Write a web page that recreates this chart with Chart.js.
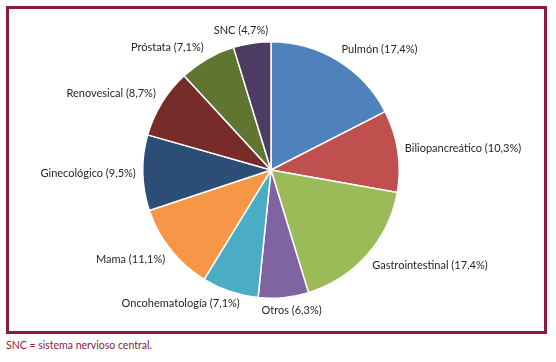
<!DOCTYPE html>
<html>
<head>
<meta charset="utf-8">
<script src="https://cdn.jsdelivr.net/npm/chart.js@4.4.0/dist/chart.umd.min.js"></script>
<style>
body { margin: 0; background: #fff; }
#wrap { position: relative; width: 556px; height: 362px; }
#frame { position: absolute; left: 6px; top: 6px; width: 541px; height: 328px; box-sizing: border-box; border: 3px solid #8b1a40; }
#chart { position: absolute; left: 0; top: 0; }
#nota { position: absolute; left: 6px; top: 339px; font: 10.5px Lato, sans-serif; color: #8b1a40; }
</style>
</head>
<body>
<div id="wrap">
  <div id="frame"></div>
  <canvas id="chart" width="556" height="336"></canvas>
  <div id="nota">SNC = sistema nervioso central.</div>
</div>
<script>
var labels = ['Pulmón', 'Biliopancreático', 'Gastrointestinal', 'Otros', 'Oncohematología',
              'Mama', 'Ginecológico', 'Renovesical', 'Próstata', 'SNC'];
var values = [17.4, 10.3, 17.4, 6.3, 7.1, 11.1, 9.5, 8.7, 7.1, 4.7];
var colors = ['#4f81bd', '#c0504d', '#9bbb59', '#8064a2', '#4bacc6',
              '#f79646', '#2c4d75', '#772c2a', '#5f7530', '#4d3b62'];

// etiquetas fuera del sector, como las pone Excel
var outsideLabels = {
    id: 'outsideLabels',
    afterDatasetsDraw: function (chart) {
        var ctx = chart.ctx;
        var meta = chart.getDatasetMeta(0);
        ctx.save();
        ctx.font = '11px Lato';
        ctx.fillStyle = '#262626';
        ctx.textAlign = 'center';
        ctx.textBaseline = 'middle';
        meta.data.forEach(function (arc, i) {
            var p = arc.getProps(['x', 'y', 'startAngle', 'endAngle', 'outerRadius'], true);
            var a = (p.startAngle + p.endAngle) / 2;
            var text = labels[i] + ' (' + values[i].toFixed(1).replace('.', ',') + '%)';
            var w = ctx.measureText(text).width, h = 11;
            var r = p.outerRadius + 7;
            var px = p.x + Math.cos(a) * r, py = p.y + Math.sin(a) * r;
            var sx = Math.max(-1, Math.min(1, Math.cos(a) * 2.5));
            var sy = Math.max(-1, Math.min(1, Math.sin(a) * 2.5));
            ctx.fillText(text, px + sx * w / 2, py + sy * h / 2);
        });
        ctx.restore();
    }
};

new Chart(document.getElementById('chart'), {
    type: 'pie',
    data: {
        labels: labels,
        datasets: [{
            data: values,
            backgroundColor: colors,
            borderColor: '#ffffff',
            borderWidth: 1.5,
            hoverOffset: 0
        }]
    },
    options: {
        responsive: false,
        animation: false,
        layout: { padding: { left: 142, right: 156, top: 41, bottom: 37 } },
        plugins: {
            legend: { display: false },
            tooltip: { enabled: false }
        }
    },
    plugins: [outsideLabels]
});
</script>
</body>
</html>
